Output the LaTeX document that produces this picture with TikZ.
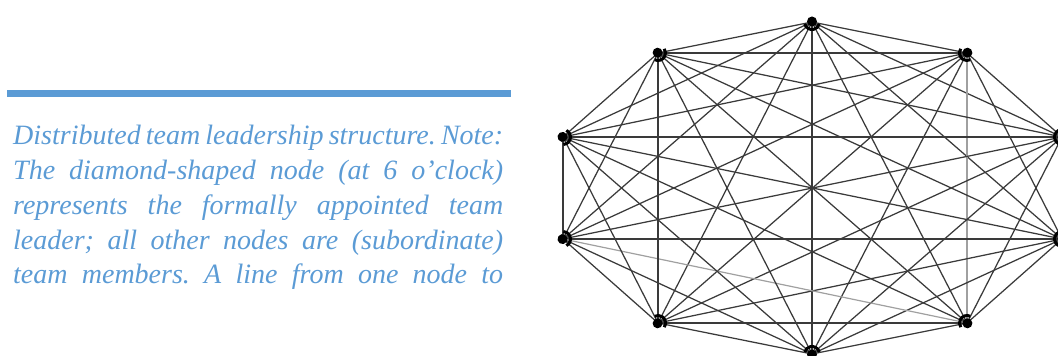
\documentclass[tikz,border=0pt]{standalone}
\usepackage{fontspec}
\setmainfont{Liberation Serif}
\definecolor{capblue}{HTML}{5B9BD5}
\definecolor{linkgray}{HTML}{3A3A3A}
\definecolor{faintgray}{HTML}{A0A0A0}
\begin{document}
\begin{tikzpicture}[x=1pt,y=1pt,
  link/.style={draw=linkgray,line width=1.25pt},
  faintlink/.style={draw=faintgray,line width=1.2pt},
  capline/.style={anchor=base west,inner sep=0pt,text=capblue,
    font=\fontsize{28}{34}\selectfont\itshape\frenchspacing},
  member/.pic={
    \draw[black,line width=3pt] (195:7.5) arc (195:345:7.5);
    \fill[black] (0,0.5) circle (5);
  }]
\useasboundingbox (0,0) rectangle (1058,356);
\clip (0,0) rectangle (1058,356);

% caption rule and text
\fill[capblue] (7,259) rectangle (511,266);
\node[capline] (c1) at (13,211) {\makebox[490pt][s]{Distributed team leadership structure. Note:}};
\node[capline] (c2) at (13,176) {\makebox[490pt][s]{The diamond-shaped node (at 6 o’clock)}};
\node[capline] (c3) at (13,141) {\makebox[490pt][s]{represents the formally appointed team}};
\node[capline] (c4) at (13,106) {\makebox[490pt][s]{leader; all other nodes are (subordinate)}};
\node[capline] (c5) at (13,72)  {\makebox[490pt][s]{team members. A line from one node to}};

% team members around the ring
\coordinate (n0) at (812,334);
\coordinate (n1) at (967,303);
\coordinate (n2) at (1062,219);
\coordinate (n3) at (1062,117);
\coordinate (n4) at (967,33);
\coordinate (n5) at (812,2);
\coordinate (n6) at (658,33);
\coordinate (n7) at (563,117);
\coordinate (n8) at (563,219);
\coordinate (n9) at (658,303);

% every pair of members is linked
\foreach \i in {0,...,8}{
  \pgfmathtruncatemacro\k{\i+1}
  \foreach \j in {\k,...,9}{
    \pgfmathtruncatemacro\faint{((\i==1)&&(\j==4))||((\i==4)&&(\j==7))}
    \ifnum\faint=1
      \draw[faintlink] (n\i) -- (n\j);
    \else
      \draw[link] (n\i) -- (n\j);
    \fi
  }
}

% member icons, shoulders turned to the centre
\foreach \n/\r in {0/0,1/-49,2/-78,3/-102,4/-131,5/180,6/131,7/102,8/78,9/49}{
  \pic[rotate=\r] at (n\n) {member};
}
\end{tikzpicture}
\end{document}
